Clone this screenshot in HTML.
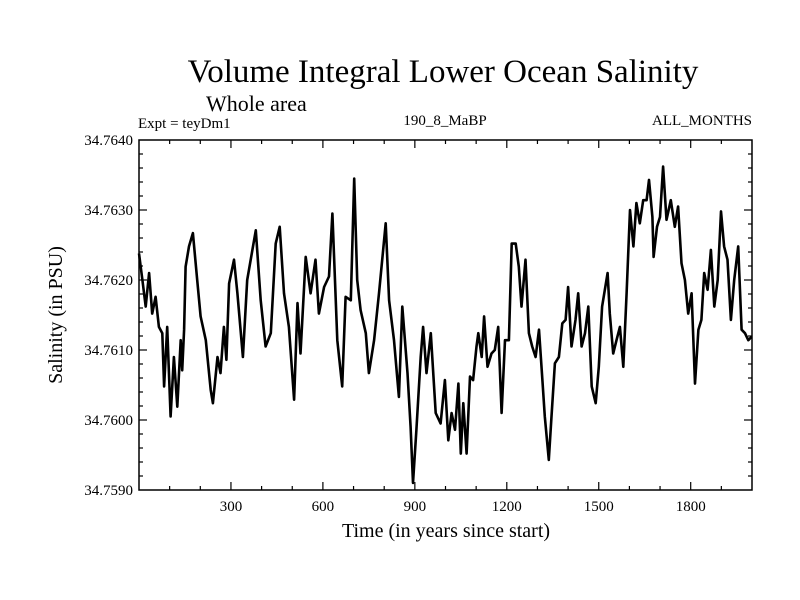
<!DOCTYPE html>
<html><head><meta charset="utf-8"><style>
body{margin:0;background:#fff}
svg{display:block;font-family:"Liberation Serif",serif}
</style></head><body>
<svg id="chart" width="800" height="600">
<text x="443" y="82" font-size="33" text-anchor="middle">Volume Integral Lower Ocean Salinity</text>
<text x="206" y="111" font-size="22">Whole area</text>
<text x="138" y="128" font-size="15">Expt = teyDm1</text>
<text x="445" y="125" font-size="15" text-anchor="middle">190_8_MaBP</text>
<text x="752" y="125" font-size="15" text-anchor="end">ALL_MONTHS</text>
<text x="446" y="537" font-size="20" text-anchor="middle">Time (in years since start)</text>
<text transform="translate(62,315) rotate(-90)" font-size="20" text-anchor="middle">Salinity (in PSU)</text>
<g id="ticks"></g>
<path id="line" fill="none" stroke="#000" stroke-width="2.6" stroke-linejoin="round"></path>
<rect x="139" y="140" width="613" height="350" fill="none" stroke="#000" stroke-width="1.5"></rect>
</svg>
<script>
const years=[0,11,22,33,43,54,65,76,82,92,103,114,125,136,141,147,152,163,176,190,201,218,234,241,256,266,277,285,294,310,321,339,353,370,381,397,413,430,446,459,473,489,506,517,527,544,560,576,587,604,620,631,647,663,674,691,702,712,723,740,750,767,783,805,816,832,848,859,876,886,894,905,919,927,938,952,968,984,
998,1009,1020,1031,1042,1050,1058,1069,1080,1090,1101,1107,1118,1126,1137,1150,1161,1172,1183,1194,1207,1216,1229,1239,1248,1261,1272,1283,1294,1305,1316,1324,1337,1346,1357,1370,1381,1392,1400,1411,1424,1433,1444,1455,1466,1477,1490,1500,1511,1529,1536,1547,1558,1569,1580,1591,1602,1613,1623,1634,1645,1656,1664,1675,1679,1690,1700,1710,1721,1735,1748,1759,1770,1781,1792,1803,1814,1825,1835,1844,1855,1866,1877,1888,1899,1909,1920,1931,1942,1955,1966,1977,1988,1999];
const salinity=[34.76238,34.76200,34.76162,34.76210,34.76152,34.76176,34.76133,34.76124,34.76048,34.76133,34.76005,34.76090,34.76019,34.76114,34.76071,34.76129,34.76219,34.76248,34.76267,34.76200,34.76148,34.76114,34.76043,34.76024,34.76090,34.76067,34.76133,34.76086,34.76195,34.76229,34.76181,34.76090,34.76200,34.76243,34.76271,34.76171,34.76105,34.76124,34.76252,34.76276,34.76181,34.76133,34.76029,34.76167,34.76095,34.76233,34.76181,34.76229,34.76152,34.76190,34.76205,34.76295,34.76114,34.76048,34.76176,34.76171,34.76345,34.76200,34.76157,34.76124,34.76067,34.76114,34.76181,34.76281,34.76171,34.76114,34.76033,34.76162,34.76067,34.75990,34.75910,34.75986,34.76090,34.76133,34.76067,34.76124,34.76010,34.75995,
34.76057,34.75971,34.76010,34.75986,34.76052,34.75952,34.76024,34.75952,34.76062,34.76057,34.76105,34.76124,34.76090,34.76148,34.76076,34.76095,34.76100,34.76133,34.76010,34.76114,34.76114,34.76252,34.76252,34.76219,34.76162,34.76229,34.76124,34.76105,34.76090,34.76129,34.76057,34.76005,34.75943,34.76005,34.76081,34.76090,34.76138,34.76143,34.76190,34.76105,34.76143,34.76181,34.76105,34.76124,34.76162,34.76048,34.76024,34.76076,34.76162,34.76210,34.76152,34.76095,34.76114,34.76133,34.76076,34.76181,34.76300,34.76248,34.76310,34.76281,34.76314,34.76314,34.76343,34.76290,34.76233,34.76276,34.76290,34.76362,34.76286,34.76314,34.76276,34.76305,34.76224,34.76200,34.76152,34.76181,34.76052,34.76129,34.76143,34.76210,34.76186,34.76243,34.76162,34.76200,34.76298,34.76248,34.76229,34.76143,34.76200,34.76248,34.76129,34.76124,34.76114,34.76119];
const xTickLabels=["300","600","900","1200","1500","1800"];
const yTickLabels=["34.7590","34.7600","34.7610","34.7620","34.7630","34.7640"];
const X0=139,X1=752,Y0=490,Y1=140,XMIN=0,XMAX=2000,YMIN=34.7590,YMAX=34.7640;
const sx=v=>X0+(v-XMIN)/(XMAX-XMIN)*(X1-X0);
const sy=v=>Y0-(v-YMIN)/(YMAX-YMIN)*(Y0-Y1);
const NS="http://www.w3.org/2000/svg";
let d="";years.forEach((t,i)=>{d+=(i?"L":"M")+sx(t).toFixed(1)+" "+sy(salinity[i]).toFixed(1);});
document.getElementById("line").setAttribute("d",d);
const g=document.getElementById("ticks");
function ln(x1,y1,x2,y2){const l=document.createElementNS(NS,"line");l.setAttribute("x1",x1);l.setAttribute("y1",y1);l.setAttribute("x2",x2);l.setAttribute("y2",y2);l.setAttribute("stroke","#000");l.setAttribute("stroke-width","1.2");


g.appendChild(l);}
function tx(x,y,s,anchor,name){const t=document.createElementNS(NS,"text");t.setAttribute("x",x);t.setAttribute("y",y);t.setAttribute("font-size","15");t.setAttribute("text-anchor",anchor);t.textContent=s;


g.appendChild(t);}
for(let v=100;v<XMAX;v+=100){const x=sx(v),L=(v%300===0)?8:4;ln(x,Y0,x,Y0-L);ln(x,Y1,x,Y1+L);}
xTickLabels.forEach(s=>tx(sx(+s),511,s,"middle","x-tick-label"));
for(let k=1;k<25;k++){const v=YMIN+k*0.0002,y=sy(v),L=(k%5===0)?8:4;ln(X0,y,X0+L,y);ln(X1,y,X1-L,y);}
yTickLabels.forEach(s=>tx(133,sy(+s)+5,s,"end","y-tick-label"));
</script>
</body></html>
